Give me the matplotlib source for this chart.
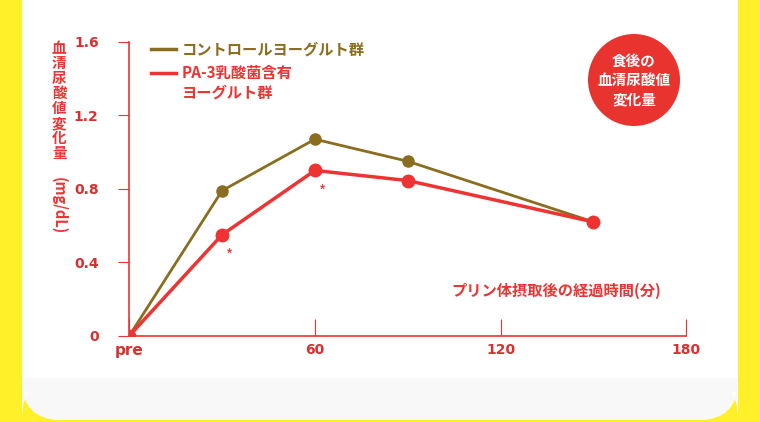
import matplotlib.pyplot as plt
from matplotlib.patches import FancyBboxPatch, Circle, Rectangle

plt.rcParams['font.family'] = ['Noto Sans CJK JP', 'DejaVu Sans']

# --- Data ---
minutes = [0, 30, 60, 90, 150]
control = [0, 0.79, 1.07, 0.95, 0.62]
pa3 = [0, 0.55, 0.90, 0.845, 0.62]
x_ticks = [0, 60, 120, 180]
x_labels = ['pre', '60', '120', '180']
y_ticks = [0, 0.4, 0.8, 1.2, 1.6]
y_labels = ['0', '0.4', '0.8', '1.2', '1.6']
star_x = [30, 60]

brown = '#8a6d1e'
red = '#ee3333'

fig = plt.figure(figsize=(7.6, 4.22), dpi=100)
fig.patch.set_facecolor('#fff02a')

# white card with rounded bottom corners
px = fig.dpi_scale_trans
fig.add_artist(FancyBboxPatch((0.22, 0.02), 7.16, 4.6, boxstyle='round,pad=0,rounding_size=0.4',
                              transform=px, fc='white', ec='none', zorder=-10))
fig.add_artist(Rectangle((0.22, 0.3), 7.16, 0.14, transform=px, fc='#f8f8f8', ec='none', zorder=-9))
fig.add_artist(FancyBboxPatch((0.22, 0.02), 7.16, 0.42, boxstyle='round,pad=0,rounding_size=0.4',
                              transform=px, fc='#f8f8f8', ec='none', zorder=-9))

ax = fig.add_axes([0.170, 0.204, 0.733, 0.697])
ax.set_facecolor('none')
ax.plot(minutes, control, color=brown, lw=2, marker='o', ms=8, zorder=3)
ax.plot(minutes, pa3, color=red, lw=2.5, marker='o', ms=9, zorder=4)
for sx in star_x:
    ax.text(sx + 2.5, pa3[minutes.index(sx)] - 0.07, '*', color=red, fontsize=11, ha='center', va='top')

ax.set_xlim(0, 180)
ax.set_ylim(0, 1.6)
for s in ['top', 'right']:
    ax.spines[s].set_visible(False)
for s in ['left', 'bottom']:
    ax.spines[s].set_color(red)
    ax.spines[s].set_linewidth(1.2)
ax.set_xticks(x_ticks)
ax.set_xticklabels(x_labels)
ax.set_yticks(y_ticks)
ax.set_yticklabels(y_labels)
ax.tick_params(axis='x', direction='in', length=12, color=red, labelcolor='#d93030', pad=5, labelsize=10)
ax.tick_params(axis='y', direction='out', length=8, color=red, labelcolor='#d93030', pad=14, labelsize=10)
for t in ax.get_xticklabels() + ax.get_yticklabels():
    t.set_fontweight('bold')
    t.set_family('DejaVu Sans')
ax.get_xticklabels()[0].set_fontsize(11)

fig.text(0.078, 0.905, '血\n清\n尿\n酸\n値\n変\n化\n量', color=red, fontsize=10.5, fontweight='bold',
         ha='center', va='top', linespacing=0.92)
fig.text(0.078, 0.58, '(mg/dL)', color=red, fontsize=10.5, fontweight='bold', rotation=270,
         ha='center', va='top')
ax.text(172, 0.2, 'プリン体摂取後の経過時間(分)', color=red, fontsize=11, fontweight='bold', ha='right', va='bottom')

# legend
ax.plot([7, 15], [1.56, 1.56], color=brown, lw=2.5, clip_on=False)
ax.text(17, 1.56, 'コントロールヨーグルト群', color=brown, fontsize=11, fontweight='bold', va='center')
ax.plot([7, 15], [1.43, 1.43], color=red, lw=2.5, clip_on=False)
ax.text(17, 1.475, 'PA-3乳酸菌含有\nヨーグルト群', color=red, fontsize=11, fontweight='bold', va='top',
        linespacing=1.3)

# badge
fig.add_artist(Circle((6.34, 3.42), 0.46, transform=px, fc='#e8332f', ec='none'))
fig.text(6.34 / 7.6, 3.42 / 4.22, '食後の\n血清尿酸値\n変化量', color='white', fontsize=10.5, fontweight='bold',
         ha='center', va='center', linespacing=1.25)

fig.savefig('out.png', dpi=100, facecolor=fig.get_facecolor())
